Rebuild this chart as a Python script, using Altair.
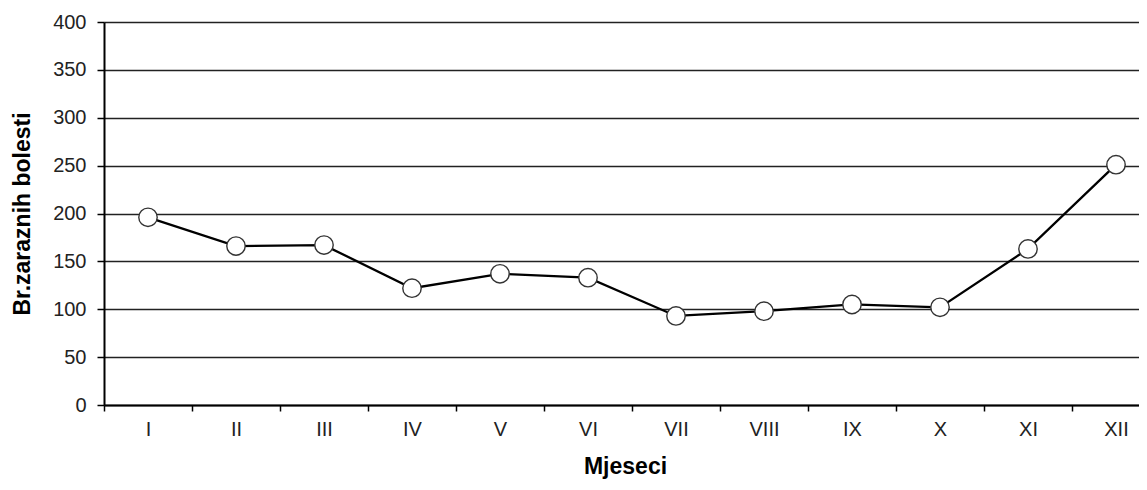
import altair as alt
import pandas as pd
import json

months = ["I", "II", "III", "IV", "V", "VI", "VII", "VIII", "IX", "X", "XI", "XII"]
values = [196, 166, 167, 122, 137, 133, 93, 98, 105, 102, 163, 251]

df = pd.DataFrame({"idx": list(range(len(months))), "month": months, "value": values})

FONT = "Liberation Sans"
PLOT_W = 1035
BAND = 88.0
x_max = -0.5 + PLOT_W / BAND

boundaries = [i - 0.5 for i in range(len(months))]
centers = list(range(len(months)))
axis_values = sorted(boundaries + centers)
label_expr = "datum.value % 1 == 0 ? " + json.dumps(months) + "[datum.value] : ''"

x = alt.X(
    "idx:Q",
    title="Mjeseci",
    scale=alt.Scale(domain=[-0.5, x_max], nice=False, zero=False),
    axis=alt.Axis(
        values=axis_values,
        labelExpr=label_expr,
        labelFlush=False,
        labelOverlap=False,
        labelAngle=0,
        tickSize=6,
        tickColor="black",
        tickWidth=1.5,
        tickOpacity={"condition": {"test": "datum.value % 1 == 0", "value": 0}, "value": 1},
        domainColor="black",
        domainWidth=2,
        labelFont=FONT,
        labelFontSize=20,
        labelColor="#222",
        labelPadding=8,
        titleFont=FONT,
        titleFontSize=23,
        titleFontWeight="bold",
        titleColor="black",
        titlePadding=16,
        titleX=521,
        grid=False,
    ),
)
y = alt.Y(
    "value:Q",
    title="Br.zaraznih bolesti",
    scale=alt.Scale(domain=[0, 400], nice=False),
    axis=alt.Axis(
        values=[0, 50, 100, 150, 200, 250, 300, 350, 400],
        tickSize=7,
        tickColor="black",
        tickWidth=1.5,
        domainColor="black",
        domainWidth=2,
        grid=True,
        gridColor="#222",
        gridWidth=1.5,
        gridOpacity=1,
        labelFont=FONT,
        labelFontSize=20,
        labelColor="#222",
        labelPadding=11,
        titleFont=FONT,
        titleFontSize=23,
        titleFontWeight="bold",
        titleColor="black",
        titlePadding=18,
    ),
)

line = alt.Chart(df).mark_line(color="black", strokeWidth=2.3).encode(x=x, y=y)
points = alt.Chart(df).mark_point(
    filled=False, fill="white", fillOpacity=1, stroke="#333", strokeWidth=1.4, size=340, opacity=1
).encode(x=x, y=y)

chart = (
    alt.layer(line, points)
    .properties(
        width=PLOT_W,
        height=383,
        autosize=alt.AutoSizeParams(type="none"),
        padding={"left": 96, "top": 14, "right": 0, "bottom": 77},
    )
    .configure_view(stroke=None)
    .configure(background="white")
)

chart.save("out.html", embed_options={"renderer": "svg", "actions": False})
